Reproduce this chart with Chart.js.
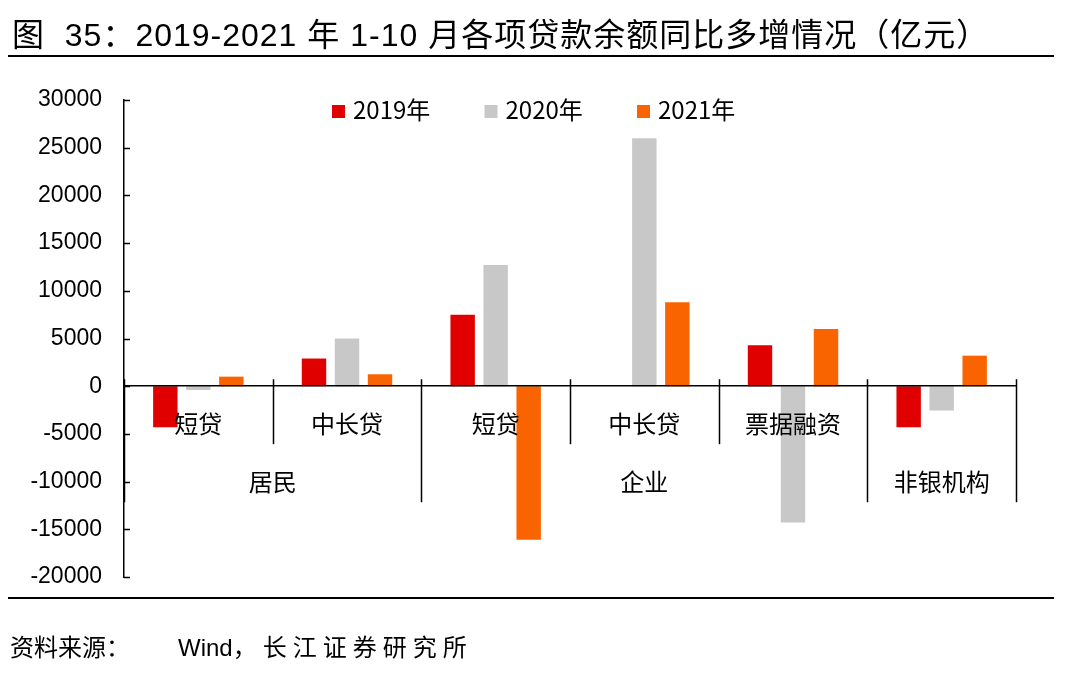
<!DOCTYPE html>
<html>
<head>
<meta charset="utf-8">
<script src="https://cdn.jsdelivr.net/npm/chart.js@4.4.0/dist/chart.umd.min.js"></script>
<style>
  body { margin: 0; background: #fff; width: 1069px; height: 673px; overflow: hidden; position: relative;
         font-family: 'Liberation Sans', 'Noto Sans CJK SC', sans-serif; color: #000; }
  #title { position: absolute; left: 12px; top: 9px; font-size: 32px; letter-spacing: 1px; white-space: nowrap; }
  .rule { position: absolute; left: 8px; width: 1046px; height: 2px; background: #000; }
  #source { position: absolute; left: 10px; top: 628px; font-size: 24px; white-space: nowrap; }
  #source .org { position: absolute; left: 168px; top: 0; }
  #source .org span { letter-spacing: 6px; }
  #chart { position: absolute; left: 0; top: 0; }
</style>
</head>
<body>
<canvas id="chart" width="1069" height="673"></canvas>
<div id="title">图&nbsp; 35：2019-2021 年 1-10 月各项贷款余额同比多增情况（亿元）</div>
<div class="rule" style="top:55px"></div>
<div class="rule" style="top:597px"></div>
<div id="source"><span>资料来源：</span><span class="org">Wind<span>，长江证券研究所</span></span></div>

<script>
// 数据
const categories = ['短贷', '中长贷', '短贷', '中长贷', '票据融资', ''];
const groups = ['居民', '企业', '非银机构'];
const groupSizes = [2, 3, 1];
const years = ['2019年', '2020年', '2021年'];
const v2019 = [-4300, 2900, 7500, 0, 4300, -4300];
const v2020 = [-400, 5000, 12700, 26000, -14300, -2550];
const v2021 = [1000, 1250, -16100, 8800, 6000, 3200];
const yMin = -20000, yMax = 30000, yStep = 5000;

const colors = ['#E00000', '#C8C8C8', '#FA6400'];
const cjk = "'Noto Sans CJK SC', sans-serif";
const latin = "'Liberation Sans', 'Noto Sans CJK SC', sans-serif";

// 分隔线、分组标签、刻度、图例
const extras = {
  id: 'extras',
  afterDraw(chart) {
    const ctx = chart.ctx;
    const x = chart.scales.x, y = chart.scales.y;
    const zero = y.getPixelForValue(0);
    const half = (x.getPixelForValue(1) - x.getPixelForValue(0)) / 2;

    ctx.save();
    ctx.strokeStyle = '#000';
    ctx.lineWidth = 1.5;

    // y 轴内侧刻度
    y.ticks.forEach(t => {
      const py = Math.round(y.getPixelForValue(t.value)) + 0.5;
      ctx.beginPath();
      ctx.moveTo(y.right, py);
      ctx.lineTo(y.right + 6, py);
      ctx.stroke();
    });

    // 类别分隔线
    const groupEnds = [];
    let acc = 0;
    groupSizes.forEach(n => { acc += n; groupEnds.push(acc); });
    for (let i = 0; i <= categories.length; i++) {
      const px = Math.round(x.getPixelForValue(i) - half) + 0.5;
      const long = i === 0 || groupEnds.includes(i);
      ctx.beginPath();
      ctx.moveTo(px, zero - 7);
      ctx.lineTo(px, zero + (long ? 116 : 58));
      ctx.stroke();
    }

    // 分组标签
    ctx.fillStyle = '#000';
    ctx.font = '24px ' + cjk;
    ctx.textAlign = 'center';
    ctx.textBaseline = 'middle';
    let start = 0;
    groups.forEach((g, k) => {
      const end = start + groupSizes[k];
      const cx = (x.getPixelForValue(start) + x.getPixelForValue(end - 1)) / 2;
      ctx.fillText(g, cx, zero + 96);
      start = end;
    });

    // 图例
    ctx.textAlign = 'left';
    let lx = 332;
    const ly = 110;
    chart.data.datasets.forEach(ds => {
      ctx.fillStyle = ds.backgroundColor;
      ctx.fillRect(lx, ly - 5, 13, 13);
      ctx.fillStyle = '#000';
      ctx.fillText(ds.label, lx + 21, ly);
      lx += 152.5;
    });
    ctx.restore();
  }
};

new Chart(document.getElementById('chart'), {
  type: 'bar',
  data: {
    labels: categories,
    datasets: [
      { label: years[0], data: v2019, backgroundColor: colors[0] },
      { label: years[1], data: v2020, backgroundColor: colors[1] },
      { label: years[2], data: v2021, backgroundColor: colors[2] }
    ]
  },
  options: {
    responsive: false,
    animation: false,
    layout: { padding: { top: 100, bottom: 96, left: 0, right: 53 } },
    datasets: { bar: { categoryPercentage: 0.666, barPercentage: 0.74 } },
    plugins: { legend: { display: false }, tooltip: { enabled: false } },
    scales: {
      x: {
        position: { y: 0 },
        grid: { display: false, drawTicks: false },
        border: { display: true, color: '#000', width: 1.5, z: 1 },
        ticks: { z: 1, color: '#000', font: { size: 24, family: cjk }, padding: 23, maxRotation: 0, autoSkip: false }
      },
      y: {
        min: yMin,
        max: yMax,
        grid: { display: false, drawTicks: false },
        border: { display: true, color: '#000', width: 1.5 },
        ticks: { stepSize: yStep, color: '#000', font: { size: 23, family: latin }, padding: 22,
                 callback: v => String(v) },
        afterFit(s) { s.width = 124; }
      }
    }
  },
  plugins: [extras]
});
</script>
</body>
</html>
